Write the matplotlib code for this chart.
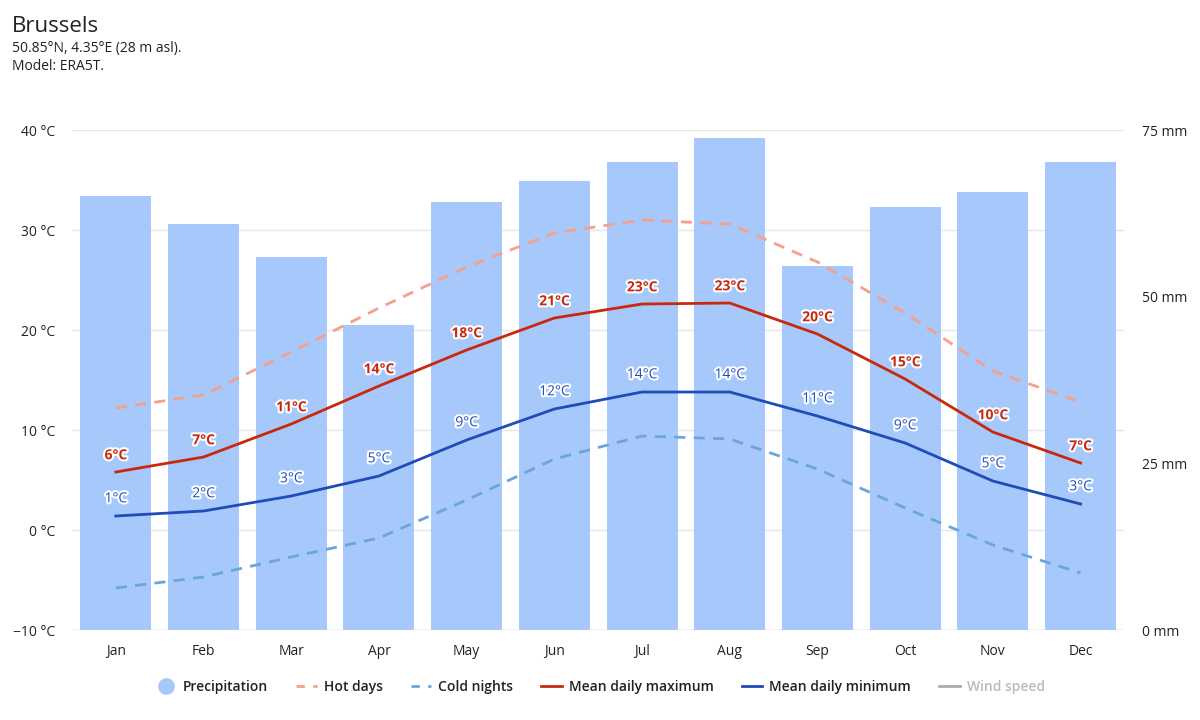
import matplotlib
matplotlib.use("Agg")
import matplotlib.pyplot as plt
import matplotlib.patheffects as pe
from matplotlib.lines import Line2D

months = ["Jan", "Feb", "Mar", "Apr", "May", "Jun",
          "Jul", "Aug", "Sep", "Oct", "Nov", "Dec"]
precip_mm = [65.1, 60.9, 56.0, 45.8, 64.2, 67.4, 70.2, 73.8, 54.6, 63.5, 65.7, 70.2]
mean_max = [5.8, 7.3, 10.6, 14.4, 18.0, 21.2, 22.6, 22.7, 19.6, 15.1, 9.8, 6.7]
mean_min = [1.4, 1.9, 3.4, 5.4, 9.0, 12.1, 13.8, 13.8, 11.4, 8.7, 4.9, 2.6]
hot_days = [12.2, 13.5, 17.8, 22.2, 26.3, 29.7, 31.0, 30.6, 26.8, 21.7, 15.9, 12.8]
cold_nights = [-5.8, -4.7, -2.7, -0.8, 3.0, 7.1, 9.4, 9.1, 6.1, 2.2, -1.5, -4.3]
temp_ticks = [-10, 0, 10, 20, 30, 40]
mm_ticks = [0, 25, 50, 75]

c_bar = "#a6c8fb"
c_max = "#c8290e"
c_min = "#1f4cb8"
c_hot = "#f4a08a"
c_cold = "#6aa6dd"
txt = "#222222"

plt.rcParams["font.family"] = ["Open Sans", "DejaVu Sans"]

fig = plt.figure(figsize=(12, 7.2), dpi=100)
ax_p = fig.add_axes([0.06, 0.125, 0.877, 0.6944])
ax_t = ax_p.twinx()
x = list(range(len(months)))

# precipitation bars on the right axis (drawn behind)
ax_p.bar(x, precip_mm, width=0.81, color=c_bar, zorder=2)
ax_p.set_ylim(0, 75)
ax_p.set_xlim(-0.5, 11.5)

# temperature on the left axis: swap sides so temp labels are left
ax_t.set_ylim(-10, 40)
ax_t.yaxis.tick_left()
ax_p.yaxis.tick_right()
ax_t.set_yticks(temp_ticks)
ax_t.set_yticklabels([f"{t} °C".replace("-", "\u2212") for t in temp_ticks])
ax_p.set_yticks(mm_ticks)
ax_p.set_yticklabels([f"{m} mm" for m in mm_ticks])
for t in temp_ticks:
    ax_p.axhline((t + 10) * 1.5, color="#e6e6e6", lw=1, zorder=1)

ax_t.plot(x, hot_days, color=c_hot, lw=2, ls=(0, (4, 3)), zorder=3)
ax_t.plot(x, cold_nights, color=c_cold, lw=2, ls=(0, (4, 3)), zorder=3)
ax_t.plot(x, mean_max, color=c_max, lw=2, zorder=4)
ax_t.plot(x, mean_min, color=c_min, lw=2, zorder=4)

outline = [pe.withStroke(linewidth=3, foreground="white")]
for i in x:
    ax_t.annotate(f"{round(mean_max[i])}°C", (i, mean_max[i]), xytext=(0, 7),
                  textcoords="offset points", ha="center", va="bottom",
                  fontsize=10, fontweight="bold", color=c_max,
                  path_effects=outline, zorder=5)
    ax_t.annotate(f"{round(mean_min[i])}°C", (i, mean_min[i]), xytext=(0, 7),
                  textcoords="offset points", ha="center", va="bottom",
                  fontsize=10, color=c_min,
                  path_effects=outline, zorder=5)

for a in (ax_p, ax_t):
    for s in a.spines.values():
        s.set_visible(False)
    a.tick_params(length=0, labelsize=10, labelcolor=txt)
ax_t.tick_params(axis="y", pad=12)
ax_p.tick_params(axis="y", pad=13)
ax_p.set_xticks(x)
ax_p.set_xticklabels(months)
ax_p.tick_params(axis="x", pad=10)
ax_p.axhline(0, color="#cccccc", lw=1, zorder=3)

fig.text(0.01, 0.955, "Brussels", fontsize=16, color=txt, ha="left")
fig.text(0.01, 0.928, "50.85°N, 4.35°E (28 m asl).", fontsize=10, color=txt, ha="left")
fig.text(0.01, 0.903, "Model: ERA5T.", fontsize=10, color=txt, ha="left")

handles = [
    Line2D([], [], marker="o", ls="none", markersize=11, color=c_bar),
    Line2D([], [], color=c_hot, lw=2, ls=(0, (3, 3))),
    Line2D([], [], color=c_cold, lw=2, ls=(0, (3, 3))),
    Line2D([], [], color=c_max, lw=2),
    Line2D([], [], color=c_min, lw=2),
    Line2D([], [], color="#aaaaaa", lw=2),
]
labels = ["Precipitation", "Hot days", "Cold nights",
          "Mean daily maximum", "Mean daily minimum", "Wind speed"]
leg = fig.legend(handles, labels, loc="center", bbox_to_anchor=(0.5, 0.046),
                 ncol=6, frameon=False, fontsize=10, handlelength=1.5,
                 columnspacing=2.0, handletextpad=0.5)
for t in leg.get_texts():
    t.set_fontweight("semibold")
    t.set_color(txt)
leg.get_texts()[-1].set_color("#bbbbbb")

fig.savefig("out.png", dpi=100)
